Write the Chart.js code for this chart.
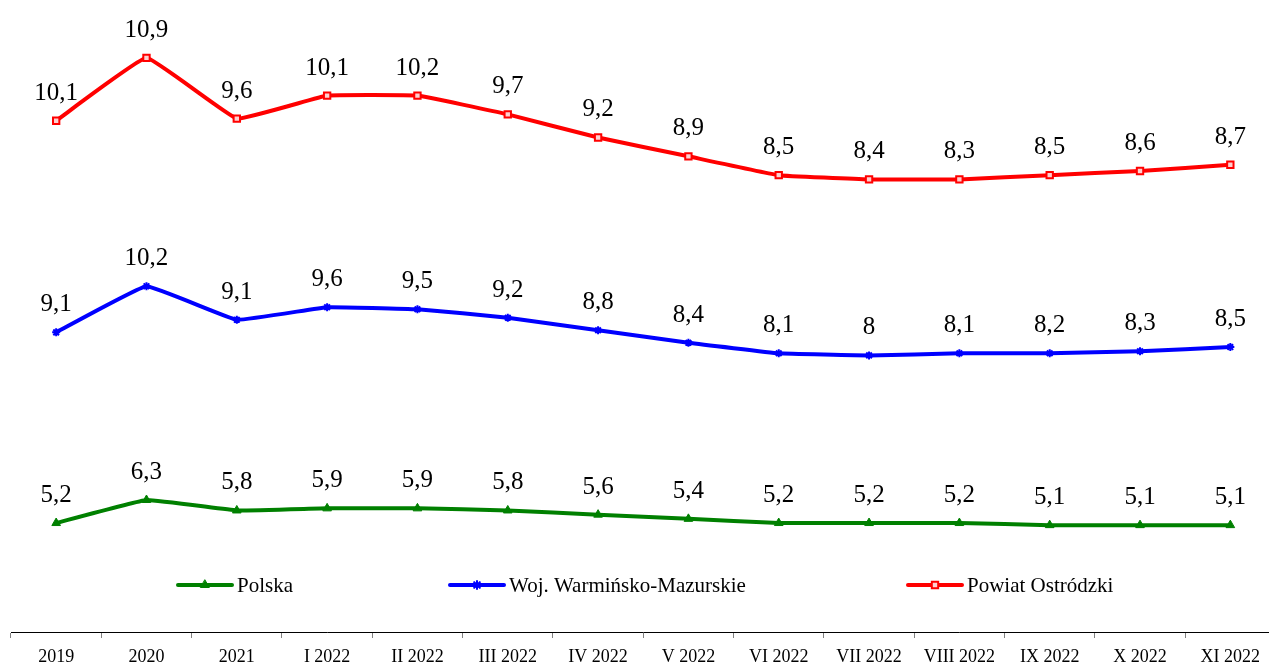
<!DOCTYPE html>
<html lang="pl">
<head>
  <meta charset="UTF-8">
  <title>Stopa bezrobocia</title>
  <script src="https://cdn.jsdelivr.net/npm/chart.js"></script>
  <style>
    html, body { margin: 0; padding: 0; background: #fff; overflow: hidden; }
    #wrap { width: 1282px; height: 677px; position: relative; }
  </style>
</head>
<body>
  <div id="wrap"><canvas id="chart"></canvas></div>

  <script>
    const labels = ['2019', '2020', '2021', 'I 2022', 'II 2022', 'III 2022', 'IV 2022', 'V 2022',
                    'VI 2022', 'VII 2022', 'VIII 2022', 'IX 2022', 'X 2022', 'XI 2022'];
    const polska = [5.2, 6.3, 5.8, 5.9, 5.9, 5.8, 5.6, 5.4, 5.2, 5.2, 5.2, 5.1, 5.1, 5.1];
    const wojewodztwo = [9.1, 10.2, 9.1, 9.6, 9.5, 9.2, 8.8, 8.4, 8.1, 8.0, 8.1, 8.2, 8.3, 8.5];
    const powiat = [10.1, 10.9, 9.6, 10.1, 10.2, 9.7, 9.2, 8.9, 8.5, 8.4, 8.3, 8.5, 8.6, 8.7];

    const serif = '"Liberation Serif", "Times New Roman", serif';
    const fmt = v => String(v).replace('.', ',');

    // value labels above each point
    const valueLabels = {
      id: 'valueLabels',
      afterDatasetsDraw(chart) {
        const ctx = chart.ctx;
        ctx.save();
        ctx.font = '25px ' + serif;
        ctx.fillStyle = '#000';
        ctx.textAlign = 'center';
        ctx.textBaseline = 'alphabetic';
        chart.data.datasets.forEach((ds, i) => {
          chart.getDatasetMeta(i).data.forEach((pt, j) => {
            ctx.fillText(fmt(ds.data[j]), pt.x, pt.y - 21);
          });
        });
        ctx.restore();
      }
    };

    // legend drawn inside the plot, like the original
    const legendXs = [178, 450, 908];
    const inlineLegend = {
      id: 'inlineLegend',
      afterDraw(chart) {
        const ctx = chart.ctx;
        const y = 585;
        ctx.save();
        chart.data.datasets.forEach((ds, i) => {
          const x = legendXs[i];
          ctx.strokeStyle = ds.borderColor;
          ctx.lineWidth = 4;
          ctx.lineCap = 'round';
          ctx.beginPath();
          ctx.moveTo(x, y);
          ctx.lineTo(x + 54, y);
          ctx.stroke();
          ctx.fillStyle = ds.pointBackgroundColor;
          ctx.strokeStyle = ds.pointBorderColor;
          ctx.lineWidth = ds.pointBorderWidth;
          Chart.helpers.drawPoint(ctx, { pointStyle: ds.pointStyle, radius: ds.pointRadius, rotation: 0, borderWidth: ds.pointBorderWidth }, x + 27, y);
          ctx.fillStyle = '#000';
          ctx.font = '21px ' + serif;
          ctx.textAlign = 'left';
          ctx.textBaseline = 'middle';
          ctx.fillText(ds.label, x + 59, y + 1);
        });
        ctx.restore();
      }
    };

    new Chart(document.getElementById('chart'), {
      type: 'line',
      data: {
        labels: labels,
        datasets: [
          {
            label: 'Polska',
            data: polska,
            borderColor: '#008000',
            pointBackgroundColor: '#008000',
            pointBorderColor: '#008000',
            pointBorderWidth: 1,
            pointStyle: 'triangle',
            pointRadius: 5,
            borderWidth: 4,
            tension: 0.08,
            fill: false
          },
          {
            label: 'Woj. Warmińsko-Mazurskie',
            data: wojewodztwo,
            borderColor: '#0000FF',
            pointBackgroundColor: '#0000FF',
            pointBorderColor: '#0000FF',
            pointBorderWidth: 2,
            pointStyle: 'star',
            pointRadius: 4,
            borderWidth: 4,
            tension: 0.08,
            fill: false
          },
          {
            label: 'Powiat Ostródzki',
            data: powiat,
            borderColor: '#FF0000',
            pointBackgroundColor: '#FFD0D0',
            pointBorderColor: '#FF0000',
            pointBorderWidth: 2,
            pointStyle: 'rect',
            pointRadius: 4.5,
            borderWidth: 4,
            tension: 0.08,
            fill: false
          }
        ]
      },
      options: {
        responsive: true,
        maintainAspectRatio: false,
        animation: false,
        layout: { padding: { left: 11, right: 1, top: 0, bottom: 1 } },
        plugins: {
          legend: { display: false },
          tooltip: { enabled: false }
        },
        scales: {
          x: {
            offset: true,
            grid: {
              offset: true,
              drawOnChartArea: false,
              drawTicks: true,
              tickLength: 6,
              color: '#808080'
            },
            border: { display: true, color: '#000', width: 1 },
            ticks: {
              color: '#000',
              padding: 10,
              maxRotation: 0,
              autoSkip: false,
              font: { family: serif, size: 18, lineHeight: 1 }
            }
          },
          y: {
            display: false,
            stacked: true,
            min: 0,
            max: 29.85
          }
        }
      },
      plugins: [valueLabels, inlineLegend]
    });
  </script>
</body>
</html>
